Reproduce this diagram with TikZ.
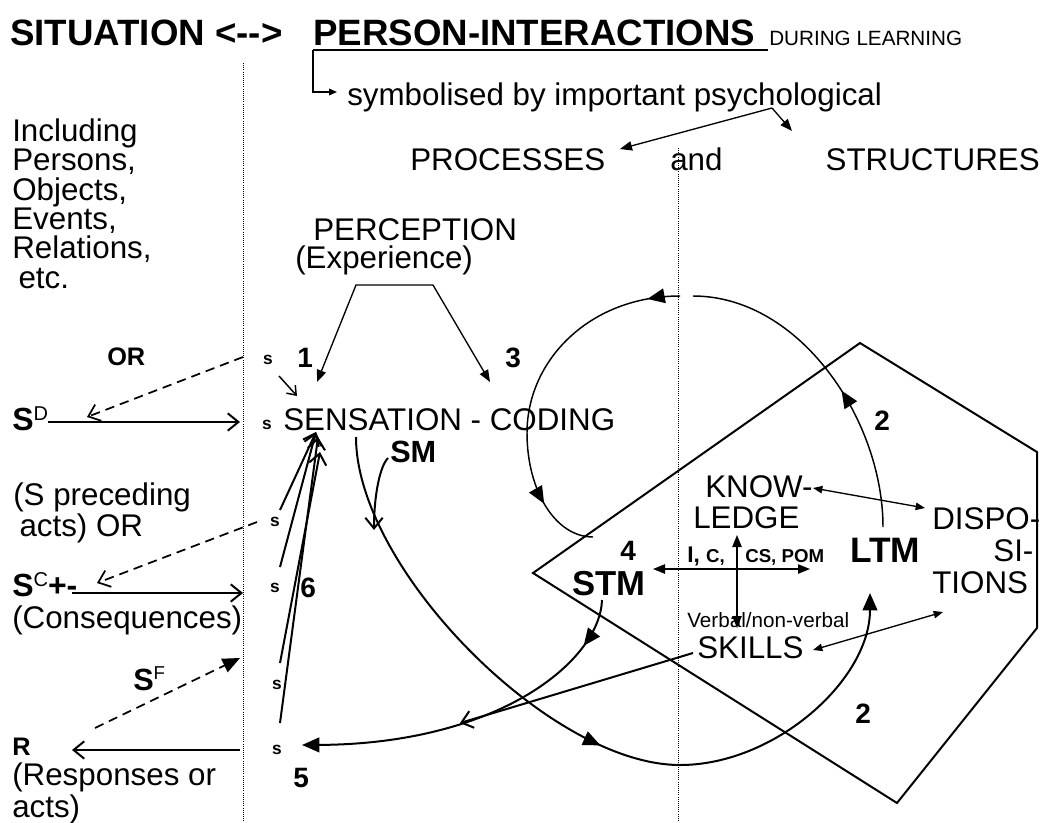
\documentclass[tikz,border=0pt]{standalone}
\usepackage{fontspec}
\setmainfont{Liberation Sans}
\usetikzlibrary{arrows.meta,decorations.markings}

\begin{document}
\begin{tikzpicture}[
    x=0.75pt, y=-0.75pt,
    txt/.style={inner sep=0pt, anchor=base west, font=\fontsize{23.5}{22}\selectfont},
    headline/.style={inner sep=0pt, anchor=base west, font=\fontsize{27.5}{30}\selectfont\bfseries},
    num/.style={inner sep=0pt, anchor=base west, font=\fontsize{21}{21}\selectfont\bfseries},
    lbl/.style={inner sep=0pt, font=\fontsize{13}{13}\selectfont\bfseries},
    heavy/.style={line width=1.5pt},
    fine/.style={line width=1pt},
    loopline/.style={line width=1.1pt},
    dotline/.style={line width=0.6pt, dash pattern=on 0.6pt off 1pt},
    dashline/.style={line width=1.3pt, dash pattern=on 7pt off 4.5pt},
    bigtri/.style={-{Triangle[length=13pt,width=11pt]}},
    midtri/.style={-{Triangle[length=9pt,width=7pt]}},
    dbl/.style={{Triangle[length=9pt,width=7pt]}-{Triangle[length=9pt,width=7pt]}},
    smalldbl/.style={{Triangle[length=7pt,width=5.5pt]}-{Triangle[length=7pt,width=5.5pt]}},
    barb/.style={-{Straight Barb[length=8pt,width=13pt]}},
    tipat/.style={postaction={decorate, decoration={markings,
      mark=at position #1 with {\arrow{Triangle[length=13pt,width=11pt]}}}}}
  ]
  \path[fill=white] (0,0) rectangle (1050,822);
  \useasboundingbox (0,0) rectangle (1050,822);

  % heading
  \node[headline] (sit) at (10,45) {SITUATION {<}-{}-{>}};
  \node[headline] (pers) at (313,45) {PERSON-INTERACTIONS};
  \node[txt, font=\fontsize{15.5}{15.5}\selectfont] (during) at (769,45) {DURING LEARNING};
  \node[txt] (symb) at (347,105) {symbolised by important psychological};
  \node[txt] (proc) at (410,170) {PROCESSES};
  \node[txt] (andw) at (670,170) {and};
  \node[txt, anchor=base east] (struct) at (1040,170) {STRUCTURES};

  % situation side (multi-line nodes sit on their last line)
  \node[txt, align=left] (incl) at (12,288) {Including\\Persons,\\Objects,\\Events,\\Relations,\\\hspace*{0.2em}etc.};
  \node[txt, font=\fontsize{19}{19}\selectfont\bfseries] (orw) at (107,365) {OR};
  \node[txt, font=\fontsize{24}{24}\selectfont\bfseries] (sD) at (12,430) {S\raisebox{7.5pt}{\fontsize{15}{15}\selectfont\mdseries D}};
  \node[txt, align=left, font=\fontsize{23.5}{21}\selectfont] (sprec) at (13,536) {(S preceding\\\hspace*{0.2em}acts) OR};
  \node[txt, font=\fontsize{24}{24}\selectfont\bfseries] (sC) at (12,596) {S\raisebox{7.5pt}{\fontsize{15}{15}\selectfont\mdseries C}+-};
  \node[txt] (conseq) at (12,628) {(Consequences)};
  \node[txt, font=\fontsize{23}{23}\selectfont\bfseries] (sF) at (133,690) {S\raisebox{8pt}{\fontsize{14}{14}\selectfont\mdseries F}};
  \node[txt, font=\fontsize{19}{19}\selectfont\bfseries] (rr) at (12,755) {R};
  \node[txt, align=left, font=\fontsize{23.5}{24}\selectfont] (resp) at (12,817) {(Responses or\\acts)};

  % person side
  \node[txt] (perc) at (313,240) {PERCEPTION};
  \node[txt] (exper) at (295,268) {(Experience)};
  \node[txt] (sens) at (283,430) {SENSATION - CODING};
  \node[txt, font=\fontsize{23}{23}\selectfont\bfseries] (sm) at (390,462) {SM};
  \node[txt, font=\fontsize{26}{26}\selectfont\bfseries] (stm) at (572,595) {STM};
  \node[txt, font=\fontsize{26.5}{26}\selectfont\bfseries] (ltm) at (850,562) {LTM};
  \node[txt] (know) at (705,497) {KNOW-};
  \node[txt] (ledge) at (693,528) {LEDGE};
  \node[txt, align=left, font=\fontsize{23.5}{24}\selectfont] (dispo) at (932,593) {DISPO-\\\hspace*{1.95em}SI-\\TIONS};
  \node[txt, font=\fontsize{17}{17}\selectfont\bfseries] (ic) at (687,562) {I, {\fontsize{14}{14}\selectfont C,}};
  \node[txt, font=\fontsize{14}{14}\selectfont\bfseries] (cspom) at (745,562) {CS, POM};
  \node[txt, font=\fontsize{15.5}{15.5}\selectfont] (verbal) at (687,627) {Verbal/non-verbal};
  \node[txt] (skills) at (697,658) {SKILLS};

  \node[num] (n1) at (297,367) {1};
  \node[num] (n3) at (505,367) {3};
  \node[num] (n6) at (300,597) {6};
  \node[num] (n5) at (293,787) {5};
  \node[num] (n4) at (620,560) {4};
  \node[num] (n2a) at (874,430) {2};
  \node[num] (n2b) at (855,723) {2};

  \foreach \nm/\px/\py in {s1/268/360, s2/267/425, s3/275/522, s4/275/588, s5/277/685, s6/277/750}
    \node[lbl] (\nm) at (\px,\py) {s};

  % dividers and memory region
  \draw[dotline] (243,63) -- (243,822);
  \draw[dotline] (678,148) -- (678,822);
  \draw[heavy] (533,573) -- (860,343) -- (1037,452) -- (1037,628) -- (897,803) -- cycle;

  % end points
  \coordinate (ul1) at (313,50);   \coordinate (ul2) at (768,50);
  \coordinate (brk) at (337,92);
  \coordinate (apex) at (772,108); \coordinate (procin) at (620,149); \coordinate (strin) at (792,131);
  \coordinate (pl) at (356,285);   \coordinate (pr) at (433,285);
  \coordinate (p1) at (317,382);   \coordinate (p3) at (490,382);
  \coordinate (sa) at (279,376);   \coordinate (sb) at (297,396);
  \coordinate (sdout) at (48,422); \coordinate (sdin) at (240,422);
  \coordinate (or1) at (243,357);  \coordinate (or2) at (87,417);
  \coordinate (ds1) at (257,522);  \coordinate (ds2) at (97,583);
  \coordinate (scout) at (72,593); \coordinate (scin) at (243,593);
  \coordinate (sf1) at (95,728);   \coordinate (sf2) at (240,658);
  \coordinate (rin) at (240,750);  \coordinate (rout) at (72,750);
  \coordinate (l1) at (280,510);   \coordinate (l2) at (280,567);
  \coordinate (l3) at (280,663);   \coordinate (l4) at (280,723);
  \coordinate (top1) at (316,432); \coordinate (top2) at (320,452); \coordinate (top3) at (318,437);
  \coordinate (sm1) at (388,458);  \coordinate (sm2) at (374,530);
  \coordinate (bc1) at (356,437);  \coordinate (bc2) at (680,765); \coordinate (bc3) at (870,593);
  \coordinate (la1) at (883,527);  \coordinate (la2) at (693,296);
  \coordinate (lb1) at (680,296);  \coordinate (lb2) at (527,433); \coordinate (lb3) at (593,537);
  \coordinate (st1) at (602,600);  \coordinate (st2) at (302,745);
  \coordinate (sk1) at (693,653);  \coordinate (sk2) at (460,723);
  \coordinate (h1) at (653,569);   \coordinate (h2) at (810,569);
  \coordinate (v1) at (737,535);   \coordinate (v2) at (737,628);
  \coordinate (kd1) at (813,488);  \coordinate (kd2) at (925,508);
  \coordinate (sd1) at (813,650);  \coordinate (sd2) at (943,612);

  \draw[line width=1.2pt] (ul1) -- (ul2);
  \draw[fine, -{Triangle[length=6pt,width=5pt]}] (ul1) |- (brk);
  \draw[fine, midtri] (apex) -- (procin);
  \draw[fine, midtri] (apex) -- (strin);
  \draw[fine, {Triangle[length=9pt,width=7pt]}-{Triangle[length=9pt,width=7pt]}] (p1) -- (pl) -- (pr) -- (p3);
  \draw[line width=1.1pt, -{Straight Barb[length=6pt,width=9pt]}] (sa) -- (sb);

  \draw[heavy, barb] (sdout) -- (sdin);
  \draw[dashline, barb] (or1) -- (or2);
  \draw[dashline, barb] (ds1) -- (ds2);
  \draw[heavy, barb] (scout) -- (scin);
  \draw[dashline, bigtri] (sf1) -- (sf2);
  \draw[heavy, barb] (rin) -- (rout);

  \draw[heavy, barb] (l1) -- (top1);
  \draw[heavy, barb] (l2) -- (top1);
  \draw[heavy, barb] (l3) -- (top2);
  \draw[heavy, barb] (l4) -- (top3);
  \draw[heavy, barb] (sm1) .. controls (380,466) and (374,495) .. (sm2);

  \draw[heavy, bigtri, tipat=0.53] (bc1) .. controls (356,568) and (550,765) .. (bc2)
    .. controls (775,765) and (870,680) .. (bc3);
  \draw[loopline, tipat=0.44] (la1) .. controls (883,420) and (800,296) .. (la2);
  \draw[loopline, tipat=0.09, tipat=0.83] (lb1) .. controls (590,296) and (527,360) .. (lb2)
    .. controls (527,490) and (555,537) .. (lb3);
  \draw[heavy, bigtri, tipat=0.14] (st1) .. controls (600,660) and (500,744) .. (st2);
  \draw[heavy, barb] (sk1) -- (sk2);

  \draw[fine, dbl] (h1) -- (h2);
  \draw[fine, dbl] (v1) -- (v2);
  \draw[fine, smalldbl] (kd1) -- (kd2);
  \draw[fine, smalldbl] (sd1) -- (sd2);
\end{tikzpicture}
\end{document}
